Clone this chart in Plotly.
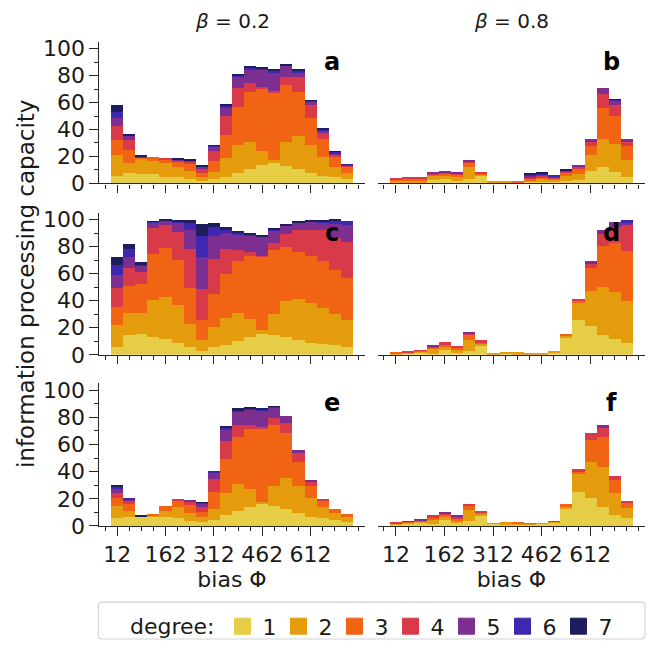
import plotly.graph_objects as go
from plotly.subplots import make_subplots

# bias values (bar centres)
bias = [12, 49.5, 87, 124.5, 162, 199.5, 237, 274.5, 312, 349.5,
        387, 424.5, 462, 499.5, 537, 574.5, 612, 649.5, 687, 724.5]
tick_vals = [12, 162, 312, 462, 612]
degrees = ["1", "2", "3", "4", "5", "6", "7"]
colors = ["#e5ce45", "#e59c0c", "#f06414", "#d93a4a", "#7d2e91", "#3f27b0", "#1d1d5f"]

# capacity per degree (rows: degree 1..7), beta = 0.2 (a, c, e) and beta = 0.8 (b, d, f)
panel_a = [
    [5.8, 8.0, 7.3, 6.6, 5.1, 4.4, 2.9, 1.5, 2.9, 5.1, 8.0, 10.9, 13.9, 15.3, 12.9, 10.9, 8.0, 5.8, 4.4, 2.9],
    [15.4, 7.1, 11.2, 10.2, 10.2, 8.0, 6.6, 2.9, 5.6, 13.9, 20.2, 19.5, 9.9, 2.0, 17.5, 24.6, 20.2, 13.7, 7.8, 4.9],
    [10.7, 9.7, 0.5, 2.7, 2.2, 4.1, 5.1, 3.6, 8.0, 17.3, 28.5, 37.2, 46.3, 50.3, 42.3, 32.1, 20.5, 13.1, 7.3, 4.4],
    [10.4, 7.3, 0.3, 0.0, 1.2, 0.8, 1.9, 3.2, 7.3, 13.6, 13.9, 6.9, 1.4, 1.0, 6.1, 11.2, 9.5, 5.1, 2.2, 0.9],
    [6.6, 3.2, 0.3, 0.0, 0.0, 0.7, 0.5, 1.0, 3.5, 6.3, 8.2, 10.4, 12.9, 14.1, 8.5, 3.9, 2.4, 1.7, 0.7, 0.5],
    [4.1, 0.5, 0.1, 0.0, 0.0, 0.0, 0.0, 0.5, 0.9, 1.5, 1.5, 1.2, 0.6, 0.8, 0.5, 0.8, 1.0, 0.7, 1.0, 0.5],
    [5.2, 1.2, 0.7, 0.0, 0.0, 0.2, 0.5, 0.4, 0.3, 1.2, 0.5, 1.2, 1.6, 0.9, 0.5, 0.9, 0.2, 0.5, 0.4, 0.0],
]
panel_b = [
    [0.8, 1.0, 1.0, 2.2, 2.9, 1.9, 3.6, 5.8, 1.0, 0.3, 0.3, 1.2, 1.5, 1.0, 1.9, 2.7, 9.5, 12.2, 8.5, 4.9],
    [1.0, 1.2, 1.3, 3.6, 2.9, 3.2, 8.6, 1.0, 0.2, 0.9, 0.5, 1.2, 1.4, 1.9, 3.9, 4.6, 11.7, 21.1, 20.5, 12.4],
    [0.8, 1.2, 1.2, 0.8, 1.7, 1.5, 3.1, 0.5, 0.0, 0.0, 1.1, 1.2, 1.5, 0.5, 1.7, 3.6, 6.5, 22.7, 21.1, 10.4],
    [0.8, 0.7, 0.6, 0.9, 0.8, 0.9, 1.0, 1.2, 0.0, 0.0, 0.0, 1.0, 1.2, 1.0, 1.5, 1.3, 3.4, 10.2, 8.1, 3.0],
    [0.0, 0.0, 0.0, 1.0, 0.9, 1.0, 1.0, 0.0, 0.0, 0.0, 0.0, 1.0, 1.0, 0.7, 0.4, 1.4, 1.5, 4.4, 3.1, 1.9],
    [0.0, 0.0, 0.0, 0.0, 0.0, 0.0, 0.0, 0.0, 0.0, 0.0, 0.0, 0.7, 0.7, 1.2, 0.3, 0.0, 0.0, 0.0, 0.7, 0.0],
    [0.0, 0.0, 0.0, 0.0, 0.0, 0.0, 0.0, 0.0, 0.0, 0.0, 0.0, 0.8, 1.2, 0.0, 1.0, 0.0, 0.0, 0.0, 0.5, 0.0],
]
panel_c = [
    [6.1, 14.8, 15.5, 13.3, 11.9, 9.0, 6.1, 3.2, 5.8, 7.5, 10.2, 13.1, 15.5, 14.6, 13.3, 11.2, 9.0, 8.3, 7.5, 6.1],
    [15.7, 16.0, 15.8, 27.5, 31.3, 28.1, 16.7, 7.7, 14.6, 20.0, 21.1, 13.8, 2.9, 15.5, 26.7, 30.5, 29.6, 26.2, 22.6, 19.4],
    [13.9, 20.2, 21.1, 34.2, 36.2, 32.8, 27.0, 15.3, 24.7, 32.0, 37.9, 46.6, 54.4, 47.6, 39.6, 34.8, 34.9, 34.7, 32.5, 31.5],
    [13.8, 13.1, 8.8, 19.2, 17.0, 21.1, 28.4, 22.6, 25.5, 18.8, 8.5, 2.5, 0.7, 5.3, 10.2, 15.7, 18.7, 23.0, 24.1, 26.7],
    [9.5, 8.0, 4.3, 3.6, 2.9, 7.1, 14.3, 23.3, 17.5, 12.0, 11.6, 12.6, 13.9, 9.2, 5.6, 5.4, 6.3, 5.9, 10.4, 12.7],
    [7.3, 6.1, 1.5, 0.7, 0.5, 0.9, 5.1, 15.8, 6.6, 2.0, 1.0, 0.5, 0.5, 0.5, 0.5, 0.5, 0.5, 0.7, 2.4, 2.6],
    [6.5, 4.1, 1.4, 0.5, 0.2, 0.5, 1.9, 8.7, 2.9, 2.6, 1.2, 0.5, 0.4, 0.5, 0.5, 0.4, 0.5, 0.7, 0.5, 0.0],
]
panel_d = [
    [0.3, 0.7, 1.5, 0.7, 3.6, 1.5, 2.9, 6.6, 0.5, 1.2, 0.3, 0.3, 0.3, 1.5, 12.6, 25.5, 21.4, 14.6, 11.7, 8.7],
    [0.5, 0.8, 0.9, 3.7, 2.2, 2.1, 8.0, 1.4, 1.0, 1.0, 1.9, 1.2, 1.2, 1.4, 1.5, 12.6, 25.9, 35.6, 34.9, 31.3],
    [1.1, 0.4, 0.5, 0.9, 1.5, 1.5, 3.9, 1.5, 0.0, 0.0, 0.0, 0.0, 0.0, 0.0, 1.2, 1.9, 16.8, 30.6, 35.9, 37.2],
    [0.0, 1.0, 0.7, 0.5, 2.2, 1.5, 1.0, 1.4, 0.0, 0.0, 0.0, 0.0, 0.0, 0.0, 0.0, 1.5, 3.9, 8.8, 12.2, 18.9],
    [0.0, 0.0, 0.0, 1.5, 0.0, 0.0, 0.9, 0.0, 0.0, 0.0, 0.0, 0.0, 0.0, 0.0, 0.0, 0.0, 1.2, 2.9, 3.6, 2.2],
    [0.0, 0.0, 0.0, 0.0, 0.0, 0.0, 0.0, 0.0, 0.0, 0.0, 0.0, 0.0, 0.0, 0.0, 0.0, 0.0, 0.0, 0.0, 0.0, 1.2],
    [0.0, 0.0, 0.0, 0.0, 0.0, 0.0, 0.0, 0.0, 0.0, 0.0, 0.0, 0.0, 0.0, 0.0, 0.0, 0.0, 0.0, 0.0, 0.0, 0.0],
]
panel_e = [
    [5.3, 6.7, 6.5, 6.5, 6.0, 5.3, 3.1, 2.4, 3.9, 7.5, 11.1, 14.0, 15.7, 14.7, 12.5, 9.6, 6.7, 5.3, 3.9, 2.4],
    [9.4, 4.4, 0.2, 1.0, 5.1, 8.7, 6.5, 3.6, 8.6, 16.8, 19.5, 13.0, 1.9, 14.5, 22.4, 19.6, 13.8, 8.7, 5.7, 4.3],
    [5.8, 5.0, 0.0, 0.7, 3.6, 4.3, 5.8, 4.4, 12.3, 24.6, 34.7, 44.1, 54.2, 44.8, 33.3, 18.0, 8.7, 4.3, 2.9, 2.2],
    [3.6, 2.2, 0.0, 0.0, 0.0, 1.5, 2.2, 3.6, 9.7, 13.5, 8.7, 2.9, 0.7, 5.0, 7.2, 6.5, 2.8, 1.5, 0.0, 0.0],
    [2.9, 1.0, 0.0, 0.0, 0.0, 0.0, 1.4, 2.1, 4.3, 8.7, 10.3, 11.8, 12.6, 8.0, 5.1, 2.2, 1.5, 0.0, 0.0, 0.0],
    [1.4, 0.7, 0.0, 0.0, 0.0, 0.0, 0.0, 0.6, 1.7, 0.7, 0.7, 0.5, 0.5, 0.4, 0.0, 0.0, 0.0, 0.0, 0.0, 0.0],
    [1.5, 0.0, 0.5, 0.0, 0.0, 0.0, 0.0, 0.6, 0.0, 1.5, 1.3, 0.7, 0.7, 0.3, 0.0, 0.0, 0.0, 0.0, 0.0, 0.0],
]
panel_f = [
    [0.7, 1.4, 2.2, 1.4, 4.1, 1.9, 3.1, 7.0, 1.2, 0.5, 0.5, 0.5, 1.2, 2.2, 12.5, 24.8, 20.5, 14.0, 8.2, 5.3],
    [0.7, 1.0, 0.9, 3.4, 1.9, 2.2, 8.2, 1.9, 0.2, 2.2, 1.2, 0.9, 0.5, 0.5, 1.5, 13.0, 26.7, 28.9, 15.9, 8.0],
    [0.3, 0.5, 0.5, 0.7, 2.2, 1.2, 3.4, 1.0, 0.0, 0.0, 1.0, 0.3, 0.0, 0.4, 2.1, 2.2, 16.2, 22.4, 9.4, 3.6],
    [0.7, 0.2, 0.3, 2.0, 0.7, 0.7, 1.4, 0.5, 0.0, 0.0, 0.0, 0.0, 0.0, 0.3, 0.0, 1.4, 4.8, 6.5, 3.1, 0.7],
    [0.0, 0.3, 0.7, 0.0, 0.7, 1.5, 0.0, 0.0, 0.0, 0.0, 0.0, 0.0, 0.0, 0.0, 0.0, 0.0, 0.0, 2.2, 0.0, 0.0],
    [0.0] * 20,
    [0.0] * 20,
]

panels = [("a", 1, 1, panel_a), ("b", 1, 2, panel_b),
          ("c", 2, 1, panel_c), ("d", 2, 2, panel_d),
          ("e", 3, 1, panel_e), ("f", 3, 2, panel_f)]

FONT = "DejaVu Sans"
INK = "#1a1a1a"
SPINE = "#262626"
TICK_SIZE = 22

fig = make_subplots(rows=3, cols=2)

for letter, r, c, data in panels:
    for i, deg in enumerate(degrees):
        fig.add_trace(go.Bar(x=bias, y=data[i], width=37.5, name=deg,
                             marker=dict(color=colors[i], line=dict(width=0)),
                             showlegend=False, hoverinfo="skip"), row=r, col=c)

# legend entries
for i, deg in enumerate(degrees):
    fig.add_trace(go.Scatter(x=[None], y=[None], mode="markers", name=deg,
                             marker=dict(symbol="square", size=16, color=colors[i],
                                         line=dict(width=1, color=colors[i])),
                             showlegend=True), row=1, col=1)

xdom = {1: [0.0, 0.4872], 2: [0.5104, 1.0]}
ydom = {1: [0.7079, 1.0], 2: [0.3537, 0.6469], 3: [0.0, 0.2947]}

for letter, r, c, data in panels:
    fig.update_xaxes(row=r, col=c, domain=xdom[c], range=[-44.25, 780.75],
                     tickvals=tick_vals, ticktext=[str(t) for t in tick_vals],
                     showticklabels=(r == 3), ticks="outside", ticklen=8.5, tickwidth=1.3,
                     tickcolor=SPINE, showline=True, linecolor=SPINE, linewidth=1.3,
                     showgrid=False, zeroline=False,
                     minor=dict(ticks="outside", ticklen=4.3, tickwidth=1, tickcolor=SPINE,
                                dtick=37.5, tick0=12, showgrid=False),
                     tickfont=dict(family=FONT, size=TICK_SIZE, color=INK),
                     title=dict(text="bias Φ" if r == 3 else "",
                                font=dict(family=FONT, size=TICK_SIZE, color=INK), standoff=2))
    if c == 1:
        fig.update_yaxes(row=r, col=c, domain=ydom[r], range=[0, 105],
                         tickvals=[0, 20, 40, 60, 80, 100], ticks="outside", ticklen=8.5,
                         tickwidth=1.3, tickcolor=SPINE, showline=True, linecolor=SPINE,
                         linewidth=1.3, showgrid=False, zeroline=False,
                         minor=dict(ticks="outside", ticklen=4.3, tickwidth=1, tickcolor=SPINE,
                                    dtick=10, showgrid=False),
                         tickfont=dict(family=FONT, size=TICK_SIZE, color=INK))
    else:
        fig.update_yaxes(row=r, col=c, domain=ydom[r], range=[0, 105],
                         showticklabels=False, ticks="", showline=False,
                         showgrid=False, zeroline=False)
    idx = (r - 1) * 2 + c
    fig.add_annotation(text="<b>%s</b>" % letter,
                       xref="x domain" if idx == 1 else "x%d domain" % idx,
                       yref="y domain" if idx == 1 else "y%d domain" % idx,
                       x=0.875, y=0.86, showarrow=False,
                       xanchor="center", yanchor="middle",
                       font=dict(family=FONT, size=24, color="black"))

fig.add_annotation(text="<i>β</i> = 0.2", xref="paper", yref="paper", x=0.2436, y=1.044,
                   showarrow=False, xanchor="center", yanchor="middle",
                   font=dict(family=FONT, size=20, color=INK))
fig.add_annotation(text="<i>β</i> = 0.8", xref="paper", yref="paper", x=0.7546, y=1.044,
                   showarrow=False, xanchor="center", yanchor="middle",
                   font=dict(family=FONT, size=20, color=INK))
fig.add_annotation(text="information processing capacity", xref="paper", yref="paper",
                   x=-0.1337, y=0.5, textangle=-90, showarrow=False,
                   xanchor="center", yanchor="middle",
                   font=dict(family=FONT, size=23, color=INK))

# rounded legend frame (paper coordinates)
L, R, T, B = -0.0013, 1.0, -0.1571, -0.2335
rx, ry = 0.0073, 0.0081
frame = (f"M{L+rx},{T} L{R-rx},{T} Q{R},{T} {R},{T-ry} L{R},{B+ry} Q{R},{B} {R-rx},{B} "
         f"L{L+rx},{B} Q{L},{B} {L},{B+ry} L{L},{T-ry} Q{L},{T} {L+rx},{T} Z")
fig.add_shape(type="path", path=frame, xref="paper", yref="paper",
              line=dict(color="#d4d4d4", width=1.2), fillcolor="white", layer="below")

# the page body adds an 8px offset; margins compensate so the plot lands in place
fig.update_layout(
    width=657, height=652,
    margin=dict(l=91, r=20, t=33.7, b=125.7),
    barmode="stack", bargap=0,
    paper_bgcolor="white", plot_bgcolor="white",
    font=dict(family=FONT, size=TICK_SIZE, color=INK),
    legend=dict(orientation="h", x=0.0531, xanchor="left", y=-0.164, yanchor="top",
                bgcolor="rgba(0,0,0,0)", borderwidth=0,
                itemsizing="trace", traceorder="normal",
                entrywidth=11, entrywidthmode="pixels",
                title=dict(text="degree:", side="left",
                           font=dict(family=FONT, size=22, color=INK)),
                font=dict(family=FONT, size=22, color=INK)),
)

fig.write_html("out.html")
